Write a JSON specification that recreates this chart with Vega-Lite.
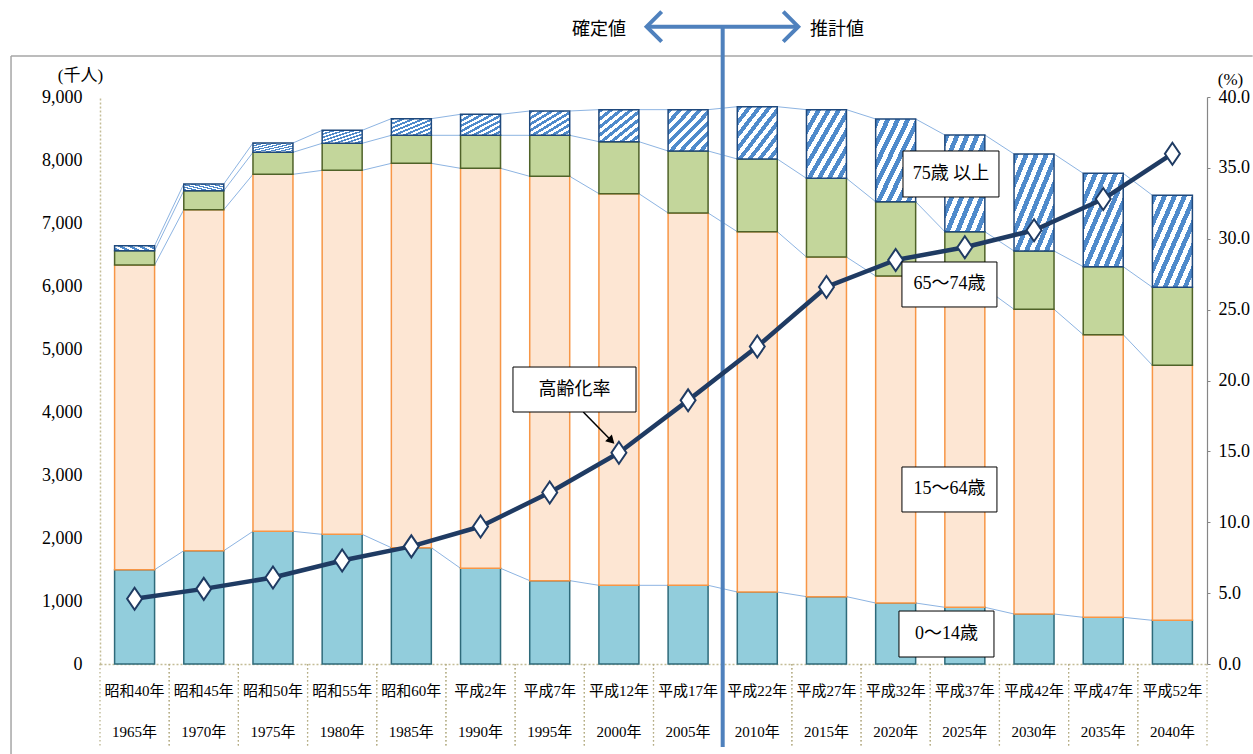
{
  "$schema": "https://vega.github.io/schema/vega-lite/v6.json",
  "width": 1107,
  "height": 567,
  "autosize": {"type": "none"},
  "padding": {"left": 100, "top": 97, "right": 46, "bottom": 90},
  "background": "white",
  "config": {
    "view": {"stroke": null},
    "font": "Liberation Serif, Noto Sans CJK JP",
    "axis": {"labelFont": "Liberation Serif, Noto Sans CJK JP", "titleFont": "Liberation Serif, Noto Sans CJK JP", "labelColor": "#000000", "titleColor": "#000000"}
  },
  "datasets": {
    "pop": [
      {"era": "昭和40年", "year": "1965年", "c0": 1497, "c1": 4836, "c2": 227, "c3": 80, "rate": 4.6},
      {"era": "昭和45年", "year": "1970年", "c0": 1798, "c1": 5413, "c2": 302, "c3": 106, "rate": 5.3},
      {"era": "昭和50年", "year": "1975年", "c0": 2106, "c1": 5667, "c2": 349, "c3": 148, "rate": 6.1},
      {"era": "昭和55年", "year": "1980年", "c0": 2058, "c1": 5778, "c2": 429, "c3": 206, "rate": 7.3},
      {"era": "昭和60年", "year": "1985年", "c0": 1846, "c1": 6101, "c2": 445, "c3": 264, "rate": 8.3},
      {"era": "平成2年", "year": "1990年", "c0": 1519, "c1": 6349, "c2": 524, "c3": 333, "rate": 9.7},
      {"era": "平成7年", "year": "1995年", "c0": 1323, "c1": 6418, "c2": 651, "c3": 386, "rate": 12.1},
      {"era": "平成12年", "year": "2000年", "c0": 1249, "c1": 6217, "c2": 825, "c3": 508, "rate": 14.9},
      {"era": "平成17年", "year": "2005年", "c0": 1249, "c1": 5910, "c2": 984, "c3": 656, "rate": 18.6},
      {"era": "平成22年", "year": "2010年", "c0": 1143, "c1": 5719, "c2": 1154, "c3": 830, "rate": 22.4},
      {"era": "平成27年", "year": "2015年", "c0": 1069, "c1": 5391, "c2": 1249, "c3": 1090, "rate": 26.6},
      {"era": "平成32年", "year": "2020年", "c0": 968, "c1": 5191, "c2": 1179, "c3": 1313, "rate": 28.5},
      {"era": "平成37年", "year": "2025年", "c0": 900, "c1": 5068, "c2": 894, "c3": 1535, "rate": 29.4},
      {"era": "平成42年", "year": "2030年", "c0": 794, "c1": 4836, "c2": 926, "c3": 1539, "rate": 30.6},
      {"era": "平成47年", "year": "2035年", "c0": 741, "c1": 4487, "c2": 1079, "c3": 1481, "rate": 32.8},
      {"era": "平成52年", "year": "2040年", "c0": 693, "c1": 4048, "c2": 1238, "c3": 1460, "rate": 36.0}
    ],
    "notes": [
      {"text": "75歳 以上", "left": 11.606, "right": 12.993, "low": 7413, "high": 8143},
      {"text": "65～74歳", "left": 11.591, "right": 12.964, "low": 5667, "high": 6381},
      {"text": "15～64歳", "left": 11.591, "right": 12.964, "low": 2413, "high": 3127},
      {"text": "0～14歳", "left": 11.548, "right": 12.921, "low": 111, "high": 841},
      {"text": "高齢化率", "left": 5.969, "right": 7.747, "low": 4000, "high": 4714}
    ],
    "frame": [
      {"from": -1.286, "to": 16.66, "low": 9651, "high": 9651},
      {"from": -1.286, "to": -1.286, "low": -1430, "high": 9651}
    ],
    "divider": [
      {"from": 9, "to": 9, "low": -1317, "high": 10116},
      {"from": 7.901, "to": 10.092, "low": 10116, "high": 10116}
    ],
    "heads": [
      {"dir": "left", "at": 7.901, "level": 10116},
      {"dir": "right", "at": 10.092, "level": 10116}
    ],
    "phases": [
      {"text": "確定値", "at": 7.212, "level": 10063},
      {"text": "推計値", "at": 10.652, "level": 10063}
    ],
    "pointer": [
      {"from": 6.985, "to": 7.378, "low": 3559, "high": 4000}
    ]
  },
  "data": {"name": "pop"},
  "transform": [
    {"calculate": "datum.era + '|' + datum.year", "as": "cat"},
    {"window": [{"op": "row_number", "as": "idx"}]}
  ],
  "layer": [
    {
      "transform": [
        {"fold": ["c0", "c1", "c2", "c3"], "as": ["key", "val"]},
        {"stack": "val", "groupby": ["idx"], "sort": [{"field": "key"}], "as": ["v0", "v1"]},
        {"window": [{"op": "lead", "field": "v1", "as": "nv"}], "groupby": ["key"], "sort": [{"field": "idx"}]},
        {"filter": "datum.nv != null"},
        {"calculate": "datum.idx - 0.5 + 0.289", "as": "xa"},
        {"calculate": "datum.idx + 0.5 - 0.289", "as": "xb"}
      ],
      "mark": {"type": "rule", "color": "#8DB4E2", "strokeWidth": 1, "clip": false},
      "encoding": {
        "x": {"field": "xa", "type": "quantitative", "scale": {"domain": [0, 16], "nice": false, "zero": false}, "axis": null},
        "x2": {"field": "xb"},
        "y": {"field": "v1", "type": "quantitative", "scale": {"domain": [0, 9000], "nice": false}, "axis": null},
        "y2": {"field": "nv"}
      }
    },
    {
      "transform": [
        {"fold": ["c0", "c1", "c2", "c3"], "as": ["key", "val"]},
        {"stack": "val", "groupby": ["idx"], "sort": [{"field": "key"}], "as": ["v0", "v1"]}
      ],
      "mark": {"type": "bar", "strokeWidth": 1.5},
      "encoding": {
        "x": {
          "field": "cat", "type": "nominal", "sort": null,
          "scale": {"paddingInner": 0.422, "paddingOuter": 0.211},
          "axis": {
            "title": null, "labelExpr": "split(datum.value, '|')", "labelAngle": 0,
            "labelFontSize": 15, "labelLineHeight": 41, "labelPadding": 19, "labelBaseline": "top",
            "ticks": false, "domainColor": "#C4BD97", "domainDash": [2, 2], "domainWidth": 1.5
          }
        },
        "y": {
          "field": "v1", "type": "quantitative", "stack": null,
          "scale": {"domain": [0, 9000], "nice": false},
          "axis": {
            "title": "(千人)", "titleAngle": 0, "titleX": -20, "titleY": -22, "titleAlign": "center",
            "titleBaseline": "middle", "titleFontSize": 17, "titleFontWeight": "normal",
            "values": [0, 1000, 2000, 3000, 4000, 5000, 6000, 7000, 8000, 9000], "format": ",d",
            "labelFontSize": 18, "labelPadding": 18, "ticks": false,
            "domainColor": "#C4BD97", "domainDash": [2, 2], "domainWidth": 1.5,
            "gridColor": "#9E9470", "gridDash": [3, 2], "gridWidth": 1.5
          }
        },
        "y2": {"field": "v0"},
        "fill": {
          "condition": {
            "test": "datum.key === 'c3'",
            "value": {
              "gradient": "linear", "x1": 0, "y1": 0, "x2": 1, "y2": 1,
              "stops": [
                {"offset": 0, "color": "#4F8ACB"}, {"offset": 0.0625, "color": "#4F8ACB"},
                {"offset": 0.0625, "color": "#FFFFFF"}, {"offset": 0.125, "color": "#FFFFFF"},
                {"offset": 0.125, "color": "#4F8ACB"}, {"offset": 0.1875, "color": "#4F8ACB"},
                {"offset": 0.1875, "color": "#FFFFFF"}, {"offset": 0.25, "color": "#FFFFFF"},
                {"offset": 0.25, "color": "#4F8ACB"}, {"offset": 0.3125, "color": "#4F8ACB"},
                {"offset": 0.3125, "color": "#FFFFFF"}, {"offset": 0.375, "color": "#FFFFFF"},
                {"offset": 0.375, "color": "#4F8ACB"}, {"offset": 0.4375, "color": "#4F8ACB"},
                {"offset": 0.4375, "color": "#FFFFFF"}, {"offset": 0.5, "color": "#FFFFFF"},
                {"offset": 0.5, "color": "#4F8ACB"}, {"offset": 0.5625, "color": "#4F8ACB"},
                {"offset": 0.5625, "color": "#FFFFFF"}, {"offset": 0.625, "color": "#FFFFFF"},
                {"offset": 0.625, "color": "#4F8ACB"}, {"offset": 0.6875, "color": "#4F8ACB"},
                {"offset": 0.6875, "color": "#FFFFFF"}, {"offset": 0.75, "color": "#FFFFFF"},
                {"offset": 0.75, "color": "#4F8ACB"}, {"offset": 0.8125, "color": "#4F8ACB"},
                {"offset": 0.8125, "color": "#FFFFFF"}, {"offset": 0.875, "color": "#FFFFFF"},
                {"offset": 0.875, "color": "#4F8ACB"}, {"offset": 0.9375, "color": "#4F8ACB"},
                {"offset": 0.9375, "color": "#FFFFFF"}, {"offset": 1, "color": "#FFFFFF"}
              ]
            }
          },
          "field": "key", "type": "nominal",
          "scale": {"domain": ["c0", "c1", "c2", "c3"], "range": ["#92CDDC", "#FDE6D3", "#C3D69B", "#8DB3E2"]},
          "legend": null
        },
        "stroke": {
          "field": "key", "type": "nominal",
          "scale": {"domain": ["c0", "c1", "c2", "c3"], "range": ["#2E6A7A", "#F79646", "#4F6228", "#1F497D"]},
          "legend": null
        }
      }
    },
    {
      "transform": [{"calculate": "datum.idx - 1", "as": "edge"}],
      "mark": {"type": "rule", "color": "#B5AD85", "strokeWidth": 1.2, "strokeDash": [1.5, 2.5], "clip": false},
      "encoding": {
        "x": {"field": "edge", "type": "quantitative", "scale": {"domain": [0, 16], "nice": false, "zero": false}, "axis": null},
        "y": {"datum": 0, "type": "quantitative", "scale": {"domain": [0, 9000], "nice": false}, "axis": null},
        "y2": {"datum": -1317}
      }
    },
    {
      "mark": {"type": "rule", "color": "#B5AD85", "strokeWidth": 1.2, "strokeDash": [1.5, 2.5], "clip": false},
      "encoding": {
        "x": {"field": "idx", "type": "quantitative", "scale": {"domain": [0, 16], "nice": false, "zero": false}, "axis": null},
        "y": {"datum": 0, "type": "quantitative", "scale": {"domain": [0, 9000], "nice": false}, "axis": null},
        "y2": {"datum": -1317}
      }
    },
    {
      "data": {"name": "frame"},
      "mark": {"type": "rule", "color": "#A6A6A6", "strokeWidth": 1.5, "clip": false},
      "encoding": {
        "x": {"field": "from", "type": "quantitative", "scale": {"domain": [0, 16], "nice": false, "zero": false}, "axis": null},
        "x2": {"field": "to"},
        "y": {"field": "low", "type": "quantitative", "scale": {"domain": [0, 9000], "nice": false}, "axis": null},
        "y2": {"field": "high"}
      }
    },
    {
      "data": {"name": "divider"},
      "mark": {"type": "rule", "color": "#4F81BD", "strokeWidth": 4, "clip": false},
      "encoding": {
        "x": {"field": "from", "type": "quantitative", "scale": {"domain": [0, 16], "nice": false, "zero": false}, "axis": null},
        "x2": {"field": "to"},
        "y": {"field": "low", "type": "quantitative", "scale": {"domain": [0, 9000], "nice": false}, "axis": null},
        "y2": {"field": "high"}
      }
    },
    {
      "data": {"name": "heads"},
      "mark": {"type": "point", "filled": false, "stroke": "#4F81BD", "strokeWidth": 4, "size": 900, "opacity": 1, "clip": false},
      "encoding": {
        "x": {"field": "at", "type": "quantitative", "scale": {"domain": [0, 16], "nice": false, "zero": false}, "axis": null},
        "y": {"field": "level", "type": "quantitative", "scale": {"domain": [0, 9000], "nice": false}, "axis": null},
        "shape": {"field": "dir", "type": "nominal", "scale": {"domain": ["left", "right"], "range": ["M1,-1L0,0L1,1", "M-1,-1L0,0L-1,1"]}, "legend": null}
      }
    },
    {
      "data": {"name": "phases"},
      "mark": {"type": "text", "font": "Noto Sans CJK JP", "fontSize": 18, "color": "#000000", "align": "center", "baseline": "middle", "clip": false},
      "encoding": {
        "x": {"field": "at", "type": "quantitative", "scale": {"domain": [0, 16], "nice": false, "zero": false}, "axis": null},
        "y": {"field": "level", "type": "quantitative", "scale": {"domain": [0, 9000], "nice": false}, "axis": null},
        "text": {"field": "text"}
      }
    },
    {
      "transform": [{"calculate": "datum.idx - 0.5", "as": "mid"}],
      "mark": {"type": "line", "color": "#1F3B63", "strokeWidth": 4.5, "strokeJoin": "round", "clip": false},
      "encoding": {
        "x": {"field": "mid", "type": "quantitative", "scale": {"domain": [0, 16], "nice": false, "zero": false}, "axis": null},
        "y": {
          "field": "rate", "type": "quantitative",
          "scale": {"domain": [0, 40], "nice": false},
          "axis": {
            "orient": "right", "title": "(%)", "titleAngle": 0, "titleX": 23, "titleY": -18,
            "titleAlign": "center", "titleBaseline": "middle", "titleFontSize": 17, "titleFontWeight": "normal",
            "values": [0, 5, 10, 15, 20, 25, 30, 35, 40], "format": ".1f",
            "labelFontSize": 18, "labelPadding": 8, "tickSize": 3, "tickColor": "#868686",
            "domainColor": "#868686", "domainWidth": 1.2, "grid": false
          }
        }
      }
    },
    {
      "transform": [{"calculate": "datum.idx - 0.5", "as": "mid"}],
      "mark": {"type": "point", "shape": "M0,-1L0.68,0L0,1L-0.68,0Z", "size": 484, "filled": true, "fill": "#FFFFFF", "stroke": "#1F3B63", "strokeWidth": 2, "opacity": 1, "clip": false},
      "encoding": {
        "x": {"field": "mid", "type": "quantitative", "scale": {"domain": [0, 16], "nice": false, "zero": false}, "axis": null},
        "y": {"field": "rate", "type": "quantitative", "scale": {"domain": [0, 40], "nice": false}, "axis": null}
      }
    },
    {
      "data": {"name": "pointer"},
      "mark": {"type": "rule", "color": "#000000", "strokeWidth": 1.5, "clip": false},
      "encoding": {
        "x": {"field": "from", "type": "quantitative", "scale": {"domain": [0, 16], "nice": false, "zero": false}, "axis": null},
        "x2": {"field": "to"},
        "y": {"field": "high", "type": "quantitative", "scale": {"domain": [0, 9000], "nice": false}, "axis": null},
        "y2": {"field": "low"}
      }
    },
    {
      "data": {"name": "pointer"},
      "mark": {"type": "point", "shape": "triangle", "size": 90, "filled": true, "fill": "#000000", "strokeWidth": 0, "angle": 135, "opacity": 1, "clip": false},
      "encoding": {
        "x": {"field": "to", "type": "quantitative", "scale": {"domain": [0, 16], "nice": false, "zero": false}, "axis": null},
        "y": {"field": "low", "type": "quantitative", "scale": {"domain": [0, 9000], "nice": false}, "axis": null}
      }
    },
    {
      "data": {"name": "notes"},
      "mark": {"type": "rect", "fill": "#FFFFFF", "stroke": "#000000", "strokeWidth": 1, "clip": false},
      "encoding": {
        "x": {"field": "left", "type": "quantitative", "scale": {"domain": [0, 16], "nice": false, "zero": false}, "axis": null},
        "x2": {"field": "right"},
        "y": {"field": "high", "type": "quantitative", "scale": {"domain": [0, 9000], "nice": false}, "axis": null},
        "y2": {"field": "low"}
      }
    },
    {
      "data": {"name": "notes"},
      "transform": [
        {"calculate": "(datum.left + datum.right) / 2", "as": "cx"},
        {"calculate": "(datum.low + datum.high) / 2", "as": "cy"}
      ],
      "mark": {"type": "text", "fontSize": 18, "color": "#000000", "align": "center", "baseline": "middle", "clip": false},
      "encoding": {
        "x": {"field": "cx", "type": "quantitative", "scale": {"domain": [0, 16], "nice": false, "zero": false}, "axis": null},
        "y": {"field": "cy", "type": "quantitative", "scale": {"domain": [0, 9000], "nice": false}, "axis": null},
        "text": {"field": "text"}
      }
    }
  ],
  "resolve": {
    "scale": {"x": "independent", "y": "independent", "shape": "independent"},
    "axis": {"x": "independent", "y": "independent"}
  }
}
